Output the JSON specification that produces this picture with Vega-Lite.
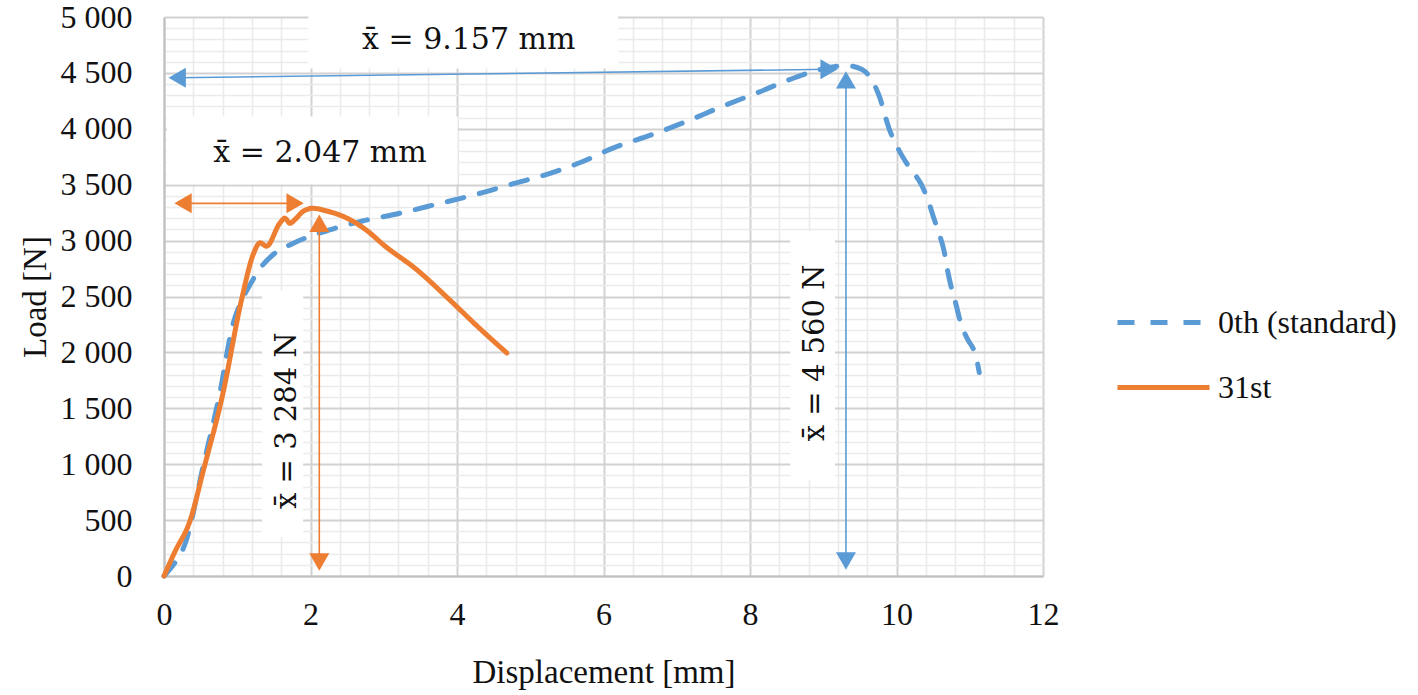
{
  "$schema": "https://vega.github.io/schema/vega-lite/v6.json",
  "width": 879,
  "height": 559,
  "autosize": {"type": "none"},
  "padding": {"left": 164, "top": 17, "right": 375, "bottom": 119},
  "background": "white",
  "datasets": {
    "curves": [
      {"series": "0th (standard)", "x": 0, "y": 0},
      {"series": "0th (standard)", "x": 0.08, "y": 60},
      {"series": "0th (standard)", "x": 0.31, "y": 330},
      {"series": "0th (standard)", "x": 0.53, "y": 970},
      {"series": "0th (standard)", "x": 0.76, "y": 1630},
      {"series": "0th (standard)", "x": 0.94, "y": 2250},
      {"series": "0th (standard)", "x": 1.05, "y": 2450},
      {"series": "0th (standard)", "x": 1.17, "y": 2600},
      {"series": "0th (standard)", "x": 1.31, "y": 2750},
      {"series": "0th (standard)", "x": 1.5, "y": 2880},
      {"series": "0th (standard)", "x": 1.76, "y": 2975},
      {"series": "0th (standard)", "x": 2.26, "y": 3095},
      {"series": "0th (standard)", "x": 2.71, "y": 3175},
      {"series": "0th (standard)", "x": 3.22, "y": 3245},
      {"series": "0th (standard)", "x": 3.72, "y": 3325},
      {"series": "0th (standard)", "x": 4.27, "y": 3415},
      {"series": "0th (standard)", "x": 4.72, "y": 3500},
      {"series": "0th (standard)", "x": 5.26, "y": 3600},
      {"series": "0th (standard)", "x": 5.71, "y": 3705},
      {"series": "0th (standard)", "x": 6.12, "y": 3825},
      {"series": "0th (standard)", "x": 6.67, "y": 3950},
      {"series": "0th (standard)", "x": 7.13, "y": 4065},
      {"series": "0th (standard)", "x": 7.62, "y": 4200},
      {"series": "0th (standard)", "x": 8.13, "y": 4330},
      {"series": "0th (standard)", "x": 8.58, "y": 4450},
      {"series": "0th (standard)", "x": 8.99, "y": 4535},
      {"series": "0th (standard)", "x": 9.31, "y": 4565},
      {"series": "0th (standard)", "x": 9.53, "y": 4530},
      {"series": "0th (standard)", "x": 9.76, "y": 4300},
      {"series": "0th (standard)", "x": 9.9, "y": 4000},
      {"series": "0th (standard)", "x": 10.04, "y": 3800},
      {"series": "0th (standard)", "x": 10.17, "y": 3660},
      {"series": "0th (standard)", "x": 10.34, "y": 3500},
      {"series": "0th (standard)", "x": 10.42, "y": 3380},
      {"series": "0th (standard)", "x": 10.51, "y": 3200},
      {"series": "0th (standard)", "x": 10.58, "y": 3065},
      {"series": "0th (standard)", "x": 10.65, "y": 2905},
      {"series": "0th (standard)", "x": 10.69, "y": 2755},
      {"series": "0th (standard)", "x": 10.75, "y": 2575},
      {"series": "0th (standard)", "x": 10.81, "y": 2435},
      {"series": "0th (standard)", "x": 10.88, "y": 2255},
      {"series": "0th (standard)", "x": 10.96, "y": 2130},
      {"series": "0th (standard)", "x": 11.09, "y": 1950},
      {"series": "0th (standard)", "x": 11.13, "y": 1820},
      {"series": "31st", "x": 0, "y": 0},
      {"series": "31st", "x": 0.14, "y": 205},
      {"series": "31st", "x": 0.36, "y": 503},
      {"series": "31st", "x": 0.54, "y": 950},
      {"series": "31st", "x": 0.8, "y": 1620},
      {"series": "31st", "x": 1.06, "y": 2475},
      {"series": "31st", "x": 1.22, "y": 2880},
      {"series": "31st", "x": 1.31, "y": 2980},
      {"series": "31st", "x": 1.4, "y": 2950},
      {"series": "31st", "x": 1.58, "y": 3155},
      {"series": "31st", "x": 1.65, "y": 3200},
      {"series": "31st", "x": 1.72, "y": 3155},
      {"series": "31st", "x": 1.79, "y": 3190},
      {"series": "31st", "x": 1.9, "y": 3262},
      {"series": "31st", "x": 2.03, "y": 3289},
      {"series": "31st", "x": 2.22, "y": 3265},
      {"series": "31st", "x": 2.5, "y": 3200},
      {"series": "31st", "x": 2.77, "y": 3090},
      {"series": "31st", "x": 3.0, "y": 2960},
      {"series": "31st", "x": 3.45, "y": 2740},
      {"series": "31st", "x": 3.9, "y": 2470},
      {"series": "31st", "x": 4.3, "y": 2220},
      {"series": "31st", "x": 4.68, "y": 1995}
    ],
    "boxes": [
      {"x": 1.97, "x2": 6.2, "y": 4540, "y2": 5160},
      {"x": 0.04, "x2": 4.01, "y": 3503, "y2": 4109},
      {"x": 1.34, "x2": 1.9, "y": 348, "y2": 2549},
      {"x": 8.55, "x2": 9.16, "y": 856, "y2": 3084}
    ],
    "notesH": [
      {"x": 4.16, "y": 4795, "text": "x̄ = 9.157 mm"},
      {"x": 2.13, "y": 3788, "text": "x̄ = 2.047 mm"}
    ],
    "notesV": [
      {"x": 1.68, "y": 1390, "text": "x̄ = 3 284 N"},
      {"x": 8.89, "y": 1996, "text": "x̄ = 4 560 N"}
    ],
    "arrows": [
      {"series": "0th (standard)", "x": 0.18, "y": 4456, "x2": 9.08, "y2": 4532},
      {"series": "0th (standard)", "x": 9.31, "y": 4438, "x2": 9.31, "y2": 134},
      {"series": "31st", "x": 0.26, "y": 3333, "x2": 1.79, "y2": 3333},
      {"series": "31st", "x": 2.12, "y": 3155, "x2": 2.12, "y2": 125}
    ],
    "heads": [
      {"series": "0th (standard)", "x": 0.18, "y": 4456, "dir": "left"},
      {"series": "0th (standard)", "x": 9.08, "y": 4532, "dir": "right"},
      {"series": "0th (standard)", "x": 9.31, "y": 4438, "dir": "up"},
      {"series": "0th (standard)", "x": 9.31, "y": 134, "dir": "down"},
      {"series": "31st", "x": 0.26, "y": 3333, "dir": "left"},
      {"series": "31st", "x": 1.79, "y": 3333, "dir": "right"},
      {"series": "31st", "x": 2.12, "y": 3155, "dir": "up"},
      {"series": "31st", "x": 2.12, "y": 125, "dir": "down"}
    ]
  },
  "layer": [
    {
      "data": {"name": "curves"},
      "mark": {"type": "line", "strokeWidth": 5, "strokeCap": "round", "interpolate": "monotone"},
      "encoding": {
        "x": {
          "field": "x", "type": "quantitative", "title": "Displacement [mm]",
          "scale": {"domain": [0, 12], "nice": false, "zero": true},
          "axis": {
            "values": [0, 0.4, 0.8, 1.2, 1.6, 2, 2.4, 2.8, 3.2, 3.6, 4, 4.4, 4.8, 5.2, 5.6, 6, 6.4, 6.8, 7.2, 7.6, 8, 8.4, 8.8, 9.2, 9.6, 10, 10.4, 10.8, 11.2, 11.6, 12],
            "tickCount": 100,
            "labelExpr": "abs(datum.value / 2 - round(datum.value / 2)) < 0.001 ? format(round(datum.value), 'd') : ''",
            "gridColor": {"condition": {"test": "abs(datum.value / 2 - round(datum.value / 2)) < 0.001", "value": "#d2d2d2"}, "value": "#ebebeb"},
            "gridWidth": {"condition": {"test": "abs(datum.value / 2 - round(datum.value / 2)) < 0.001", "value": 2}, "value": 1.6},
            "labelPadding": 23, "titlePadding": 26, "labelFlush": false, "labelOverlap": false, "labelBound": false
          }
        },
        "y": {
          "field": "y", "type": "quantitative", "title": "Load [N]",
          "scale": {"domain": [0, 5000], "nice": false},
          "axis": {
            "values": [0, 100, 200, 300, 400, 500, 600, 700, 800, 900, 1000, 1100, 1200, 1300, 1400, 1500, 1600, 1700, 1800, 1900, 2000, 2100, 2200, 2300, 2400, 2500, 2600, 2700, 2800, 2900, 3000, 3100, 3200, 3300, 3400, 3500, 3600, 3700, 3800, 3900, 4000, 4100, 4200, 4300, 4400, 4500, 4600, 4700, 4800, 4900, 5000],
            "tickCount": 100,
            "labelExpr": "datum.value % 500 == 0 ? replace(format(datum.value, ','), ',', ' ') : ''",
            "gridColor": {"condition": {"test": "datum.value % 500 == 0", "value": "#d2d2d2"}, "value": "#ebebeb"},
            "gridWidth": {"condition": {"test": "datum.value % 500 == 0", "value": 2}, "value": 1.6},
            "labelPadding": 32, "titlePadding": 8, "labelOverlap": false, "labelBound": false
          }
        },
        "color": {
          "field": "series", "type": "nominal",
          "scale": {"domain": ["0th (standard)", "31st"], "range": ["#5B9BD5", "#ED7D31"]},
          "legend": {"title": null}
        },
        "strokeDash": {
          "field": "series", "type": "nominal",
          "scale": {"domain": ["0th (standard)", "31st"], "range": [[17, 16], [1, 0]]},
          "legend": {"title": null}
        }
      }
    },
    {
      "data": {"name": "boxes"},
      "mark": {"type": "rect", "fill": "white", "stroke": null},
      "encoding": {
        "x": {"field": "x", "type": "quantitative"},
        "x2": {"field": "x2"},
        "y": {"field": "y", "type": "quantitative"},
        "y2": {"field": "y2"}
      }
    },
    {
      "data": {"name": "notesH"},
      "mark": {"type": "text", "font": "DejaVu Serif", "fontSize": 30, "color": "#111111", "align": "center", "baseline": "middle"},
      "encoding": {
        "x": {"field": "x", "type": "quantitative"},
        "y": {"field": "y", "type": "quantitative"},
        "text": {"field": "text"}
      }
    },
    {
      "data": {"name": "notesV"},
      "mark": {"type": "text", "font": "DejaVu Serif", "fontSize": 29, "color": "#111111", "align": "center", "baseline": "middle", "angle": 270},
      "encoding": {
        "x": {"field": "x", "type": "quantitative"},
        "y": {"field": "y", "type": "quantitative"},
        "text": {"field": "text"}
      }
    },
    {
      "data": {"name": "arrows"},
      "mark": {"type": "rule", "strokeWidth": 1.6},
      "encoding": {
        "x": {"field": "x", "type": "quantitative"},
        "y": {"field": "y", "type": "quantitative"},
        "x2": {"field": "x2"},
        "y2": {"field": "y2"},
        "color": {"field": "series", "type": "nominal"}
      }
    },
    {
      "data": {"name": "heads"},
      "mark": {"type": "point", "filled": true, "opacity": 1, "size": 400},
      "encoding": {
        "x": {"field": "x", "type": "quantitative"},
        "y": {"field": "y", "type": "quantitative"},
        "color": {"field": "series", "type": "nominal"},
        "shape": {
          "field": "dir", "type": "nominal",
          "scale": {"domain": ["left", "right", "up", "down"], "range": ["triangle-left", "triangle-right", "triangle-up", "triangle-down"]},
          "legend": null
        }
      }
    }
  ],
  "config": {
    "view": {"stroke": null},
    "axis": {
      "labelFont": "Liberation Serif", "labelFontSize": 32, "labelColor": "#111111",
      "titleFont": "Liberation Serif", "titleFontSize": 33, "titleFontWeight": "normal", "titleColor": "#111111",
      "ticks": false, "tickSize": 0, "domainColor": "#bfbfbf", "domainWidth": 2
    },
    "legend": {
      "orient": "none", "legendX": 951, "legendY": 257,
      "labelFont": "Liberation Serif", "labelFontSize": 32, "labelColor": "#111111",
      "symbolType": "stroke", "symbolSize": 8464, "symbolStrokeWidth": 5,
      "rowPadding": -11, "labelOffset": 6, "labelLimit": 400
    }
  }
}
